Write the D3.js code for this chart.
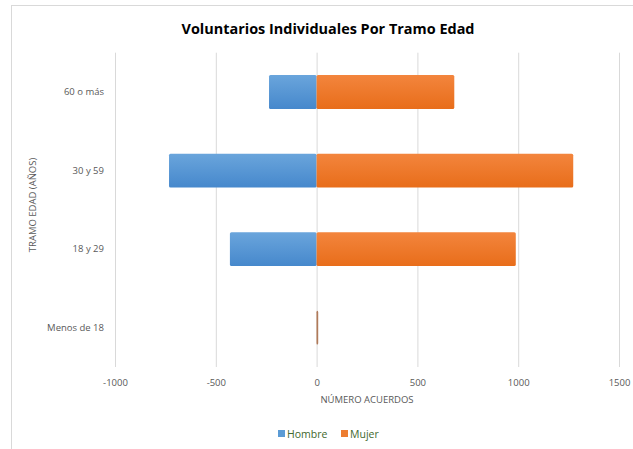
<!DOCTYPE html>
<html lang="es">
<head>
  <meta charset="UTF-8" />
  <title>Voluntarios Individuales Por Tramo Edad</title>
  <script src="https://d3js.org/d3.v7.min.js"></script>
  <style>
    body { margin: 0; background: #fff; }
    svg { display: block; font-family: "Open Sans", "Noto Sans", sans-serif; }
    .tick line { stroke: #d9d9d9; }
    .tick text { fill: #595959; font-size: 9.5px; font-family: "Open Sans", "Noto Sans", sans-serif; }
  </style>
</head>
<body>
  <div id="chart"></div>

  <script>
    // datos (de abajo hacia arriba)
    const tramos = ["Menos de 18", "18 y 29", "30 y 59", "60 o más"];
    const hombre = [-1, -430, -732, -236];
    const mujer = [8, 988, 1273, 683];
    const xTicks = [-1000, -500, 0, 500, 1000, 1500];
    const series = ["Hombre", "Mujer"];

    const width = 633, height = 449;
    const plot = { left: 115, right: 619, top: 52.7, bottom: 367 };

    const svg = d3.select("#chart").append("svg")
      .attr("width", width)
      .attr("height", height);

    // borde del gráfico
    svg.append("rect")
      .attr("x", 11.5).attr("y", 5.5)
      .attr("width", 640).attr("height", 460)
      .attr("fill", "none")
      .attr("stroke", "#d9d9d9");

    const defs = svg.append("defs");
    const grad = (id, c1, c2) => {
      const g = defs.append("linearGradient").attr("id", id)
        .attr("x1", 0).attr("y1", 0).attr("x2", 0).attr("y2", 1);
      g.append("stop").attr("offset", "0%").attr("stop-color", c1);
      g.append("stop").attr("offset", "100%").attr("stop-color", c2);
    };
    grad("gBlue", "#6aa5dc", "#4688cc");
    grad("gOrange", "#f3853d", "#e86d1a");
    const fills = { Hombre: "url(#gBlue)", Mujer: "url(#gOrange)" };
    const legendColors = { Hombre: "#5b9bd5", Mujer: "#ed7d31" };

    const x = d3.scaleLinear()
      .domain([-1000, 1500])
      .range([plot.left, plot.right]);

    const y = d3.scaleBand()
      .domain(tramos.slice().reverse())
      .range([plot.top, plot.bottom])
      .paddingInner(0.57)
      .paddingOuter(0.285);

    // líneas de división verticales
    svg.append("g")
      .attr("transform", `translate(0,${plot.bottom})`)
      .call(d3.axisBottom(x).tickValues(xTicks).tickFormat(d => String(d))
        .tickSize(-(plot.bottom - plot.top)))
      .call(g => g.select(".domain").remove())
      .call(g => g.selectAll(".tick text").attr("dy", "0.35em").attr("y", 16));

    // etiquetas de categorías
    svg.append("g")
      .attr("transform", `translate(${plot.left},0)`)
      .call(d3.axisLeft(y).tickSize(0).tickPadding(11))
      .call(g => g.select(".domain").remove());

    // barras
    const rows = tramos.map((t, i) => ({ tramo: t, Hombre: hombre[i], Mujer: mujer[i] }));
    series.forEach(s => {
      svg.append("g").selectAll("rect")
        .data(rows)
        .join("rect")
        .attr("x", d => x(Math.min(0, d[s])))
        .attr("y", d => y(d.tramo))
        .attr("width", d => Math.abs(x(d[s]) - x(0)))
        .attr("height", y.bandwidth())
        .attr("rx", 1.5)
        .attr("fill", d => d.tramo === "Menos de 18" ? "#b07a5a" : fills[s]);
    });

    // título
    svg.append("text")
      .attr("x", 328).attr("y", 34)
      .attr("text-anchor", "middle")
      .attr("font-size", 13.5)
      .attr("font-weight", "bold")
      .attr("fill", "#000")
      .attr("textLength", 293)
      .attr("lengthAdjust", "spacingAndGlyphs")
      .text("Voluntarios Individuales Por Tramo Edad");

    // títulos de ejes
    svg.append("text")
      .attr("x", (plot.left + plot.right) / 2).attr("y", 403)
      .attr("text-anchor", "middle")
      .attr("font-size", 9.5)
      .attr("fill", "#595959")
      .text("NÚMERO ACUERDOS");

    svg.append("text")
      .attr("transform", "translate(36,205) rotate(-90)")
      .attr("text-anchor", "middle")
      .attr("font-size", 9.5)
      .attr("fill", "#595959")
      .text("TRAMO EDAD (AÑOS)");

    // leyenda
    const legend = svg.append("g");
    const lx = [278, 341];
    series.forEach((s, i) => {
      legend.append("rect")
        .attr("x", lx[i]).attr("y", 430)
        .attr("width", 7).attr("height", 7)
        .attr("fill", legendColors[s]);
      legend.append("text")
        .attr("x", lx[i] + 9).attr("y", 437.5)
        .attr("font-size", 10.5)
        .attr("fill", "#41682d")
        .text(s);
    });
  </script>
</body>
</html>
